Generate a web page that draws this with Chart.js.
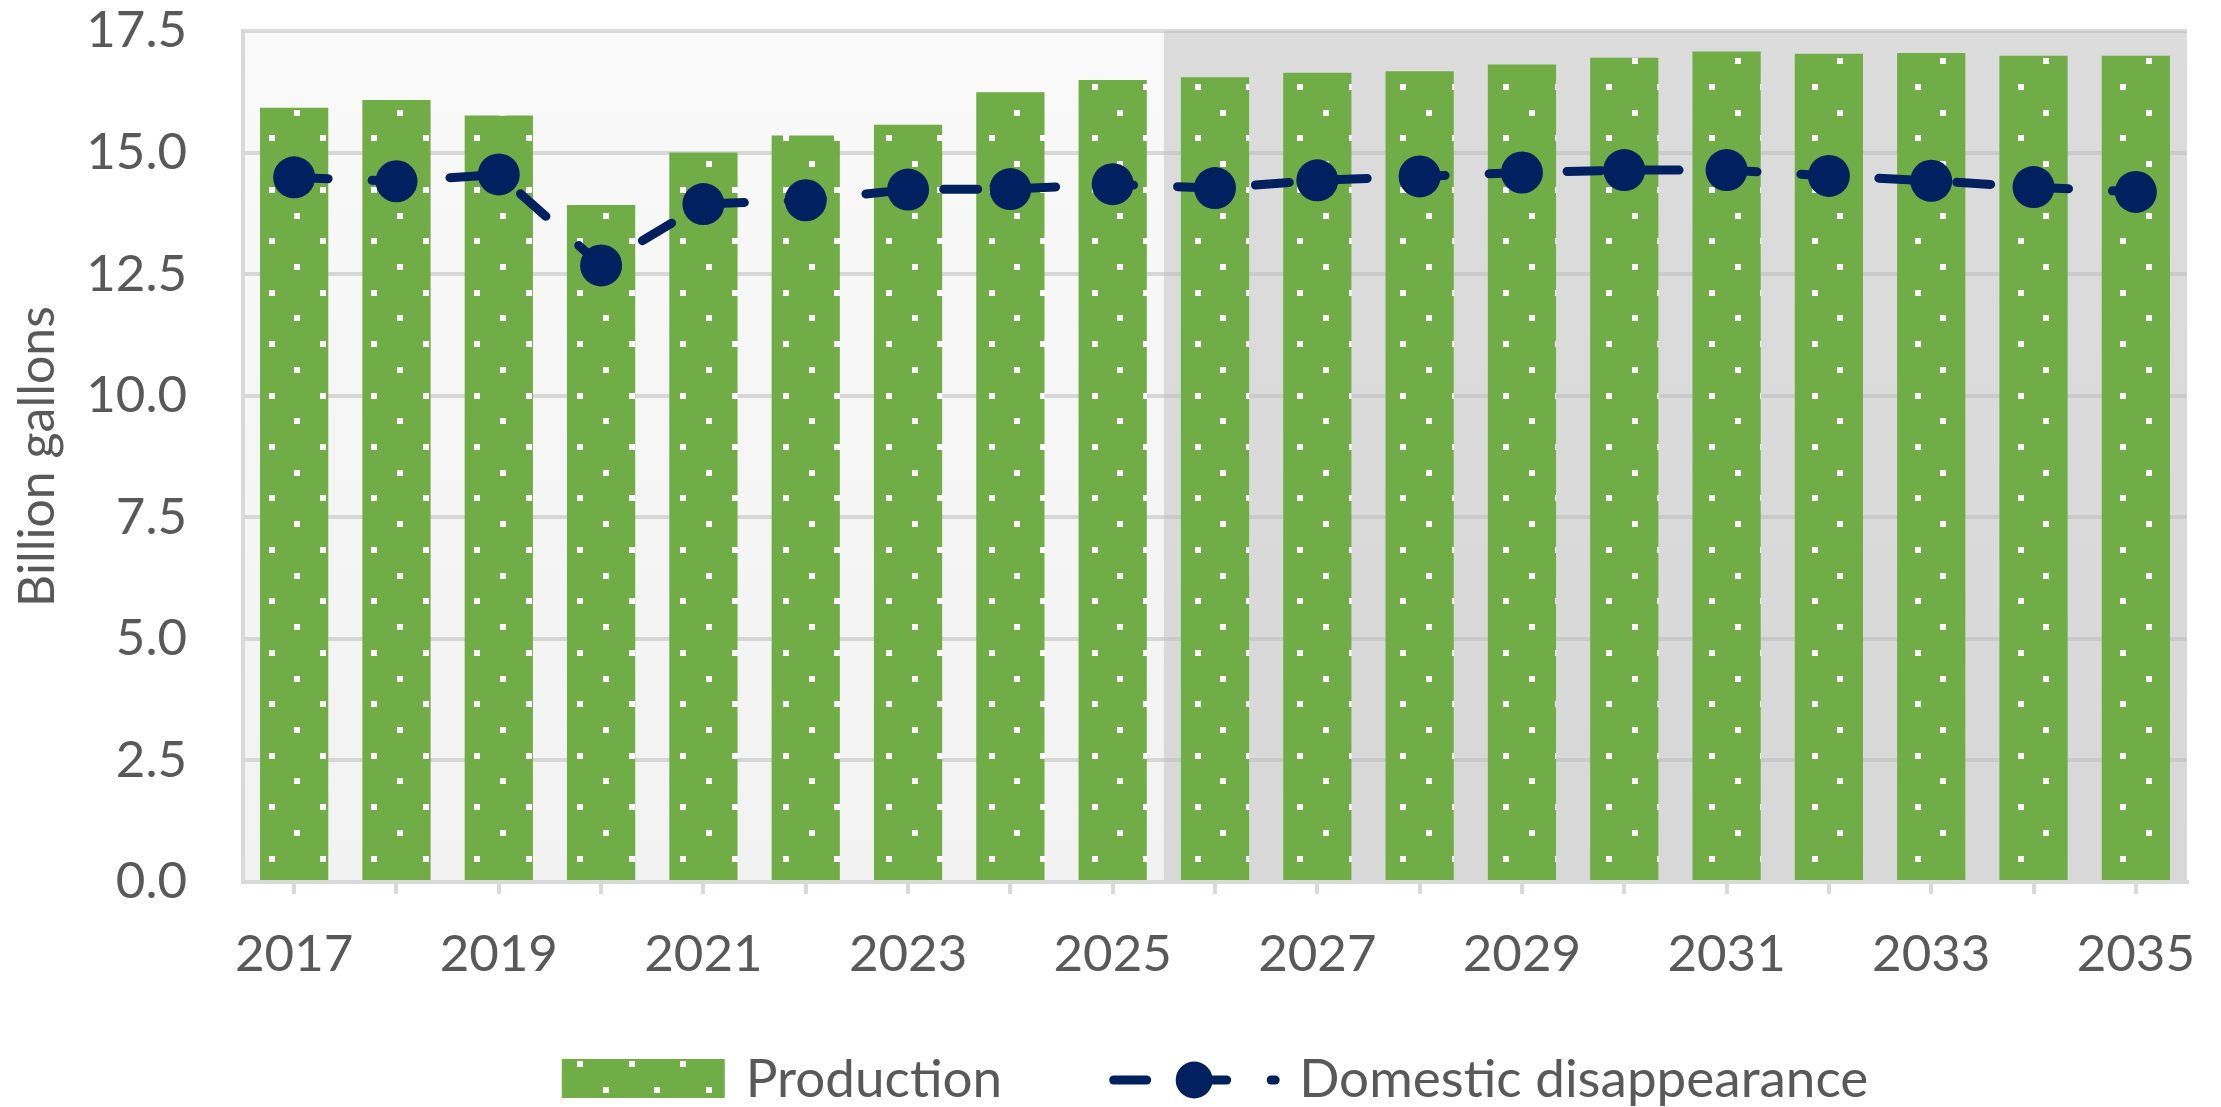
<!DOCTYPE html>
<html>
<head>
<meta charset="utf-8">
<script src="https://cdn.jsdelivr.net/npm/chart.js@4.4.1/dist/chart.umd.min.js"></script>
<style>
    html, body { margin: 0; padding: 0; background: #ffffff; }
    #wrap { width: 2221px; height: 1107px; }
</style>
</head>
<body>
<div id="wrap"><canvas id="chart" width="2221" height="1107"></canvas></div>
<script>
const years = ['2017', '2018', '2019', '2020', '2021', '2022', '2023', '2024', '2025', '2026',
    '2027', '2028', '2029', '2030', '2031', '2032', '2033', '2034', '2035'];
const production = [15.92, 16.08, 15.76, 13.92, 15.00, 15.35, 15.57, 16.24, 16.49, 16.55,
    16.64, 16.67, 16.81, 16.95, 17.08, 17.03, 17.05, 16.99, 16.99];
const domestic = [14.49, 14.41, 14.55, 12.68, 13.94, 14.02, 14.24, 14.25, 14.35, 14.27,
    14.43, 14.51, 14.59, 14.64, 14.64, 14.52, 14.42, 14.29, 14.19];
const yTicks = [0, 2.5, 5, 7.5, 10, 12.5, 15, 17.5];
const lastHistorical = '2025';

const GREEN = '#70AD47';
const NAVY = '#002060';
const TEXT = '#595959';
const FONT = 'Lato, "Open Sans", sans-serif';

// white dotted fill, laid out in canvas coordinates like the original
function dotPattern(w, h) {
    const c = document.createElement('canvas');
    c.width = w;
    c.height = h;
    const g = c.getContext('2d');
    g.fillStyle = GREEN;
    g.fillRect(0, 0, w, h);
    g.fillStyle = '#ffffff';
    const step = 25.72, x0 = 294.3, y0 = 109.7;
    const iMin = Math.floor(-x0 / step) - 1, jMin = Math.floor(-y0 / step) - 1;
    for (let i = iMin; x0 + i * step < w; i++) {
        for (let j = jMin; y0 + j * step < h; j++) {
            if ((i + j) % 2 !== 0) continue;
            g.fillRect(Math.round(x0 + i * step), Math.round(y0 + j * step), 6, 6);
        }
    }
    return g.createPattern(c, 'no-repeat');
}

const canvas = document.getElementById('chart');
const barFill = dotPattern(canvas.width, canvas.height);

const shading = {
    id: 'shading',
    beforeDraw(chart) {
        const {ctx, chartArea: a, scales: {x}} = chart;
        const idx = years.indexOf(lastHistorical);
        const split = (x.getPixelForValue(idx) + x.getPixelForValue(idx + 1)) / 2;
        ctx.save();
        let grad = ctx.createLinearGradient(0, a.top, 0, a.bottom);
        grad.addColorStop(0, '#f9f9f9');
        grad.addColorStop(1, '#f2f2f2');
        ctx.fillStyle = grad;
        ctx.fillRect(a.left, a.top, split - a.left, a.bottom - a.top);
        grad = ctx.createLinearGradient(0, a.top, 0, a.bottom);
        grad.addColorStop(0, '#dcdcdc');
        grad.addColorStop(1, '#d8d8d8');
        ctx.fillStyle = grad;
        ctx.fillRect(split, a.top, a.right - split, a.bottom - a.top);
        ctx.restore();
    }
};

const bottomLegend = {
    id: 'bottomLegend',
    afterDraw(chart) {
        const {ctx, chartArea: a} = chart;
        const bar = chart.data.datasets.find(d => d.type === 'bar');
        const line = chart.data.datasets.find(d => d.type === 'line');
        ctx.save();
        ctx.font = '53px ' + FONT;
        const w1 = ctx.measureText(bar.label).width;
        const w2 = ctx.measureText(line.label).width;
        const boxW = 163, boxH = 39, symW = 172;
        const total = boxW + 21 + w1 + 107 + symW + 18 + w2;
        const cy = chart.height - 27;
        let x = (a.left + a.right) / 2 - total / 2;

        ctx.fillStyle = bar.backgroundColor;
        ctx.fillRect(x, cy - 21, boxW, boxH);
        x += boxW + 21;
        ctx.fillStyle = TEXT;
        ctx.textAlign = 'left';
        ctx.textBaseline = 'middle';
        ctx.fillText(bar.label, x, cy);
        x += w1 + 107;

        ctx.strokeStyle = line.borderColor;
        ctx.lineWidth = 9;
        ctx.lineCap = 'round';
        const seg = (x1, x2) => {
            ctx.beginPath();
            ctx.moveTo(x1, cy);
            ctx.lineTo(x2, cy);
            ctx.stroke();
        };
        seg(x + 4.5, x + 37.5);
        seg(x + 85, x + 117.5);
        seg(x + 162, x + 166);
        ctx.fillStyle = line.pointBackgroundColor;
        ctx.beginPath();
        ctx.arc(x + 85, cy, 18.5, 0, Math.PI * 2);
        ctx.fill();
        x += symW + 18;
        ctx.fillStyle = TEXT;
        ctx.fillText(line.label, x, cy);
        ctx.restore();
    }
};

new Chart(canvas, {
    data: {
        labels: years,
        datasets: [{
            type: 'line',
            label: 'Domestic disappearance',
            data: domestic,
            order: 0,
            borderColor: NAVY,
            borderWidth: 9,
            borderDash: [34, 44],
            borderCapStyle: 'round',
            tension: 0,
            pointRadius: 21,
            pointBorderWidth: 0,
            pointBackgroundColor: NAVY
        }, {
            type: 'bar',
            label: 'Production',
            data: production,
            order: 1,
            backgroundColor: barFill,
            borderWidth: 0,
            categoryPercentage: 1,
            barPercentage: 0.667
        }]
    },
    options: {
        responsive: false,
        animation: false,
        devicePixelRatio: 1,
        layout: {
            padding: {left: 0, right: 34, top: 31, bottom: 91}
        },
        plugins: {
            legend: {display: false},
            tooltip: {enabled: false}
        },
        scales: {
            x: {
                offset: true,
                grid: {
                    offset: false,
                    drawOnChartArea: false,
                    drawTicks: true,
                    tickLength: 12,
                    color: '#d9d9d9',
                    lineWidth: 4
                },
                border: {display: true, color: '#d9d9d9', width: 4},
                ticks: {
                    autoSkip: false,
                    maxRotation: 0,
                    padding: 0,
                    color: TEXT,
                    font: {family: FONT, size: 51, lineHeight: 2.39},
                    callback: function (value, index) {
                        return index % 2 === 0 ? years[index] : '';
                    }
                },
                afterFit: function (scale) {
                    scale.height = 134;
                }
            },
            y: {
                min: yTicks[0],
                max: yTicks[yTicks.length - 1],
                afterBuildTicks: function (scale) {
                    scale.ticks = yTicks.map(v => ({value: v}));
                },
                afterFit: function (scale) {
                    scale.width = 243;
                },
                grid: {
                    drawTicks: true,
                    tickLength: 56,
                    tickColor: 'rgba(0,0,0,0)',
                    color: 'rgba(190,190,190,0.55)',
                    lineWidth: 4
                },
                border: {display: true, color: '#d9d9d9', width: 4},
                ticks: {
                    padding: 0,
                    color: TEXT,
                    font: {family: FONT, size: 51},
                    callback: function (value) {
                        return value.toFixed(1);
                    }
                },
                title: {
                    display: true,
                    text: 'Billion gallons',
                    color: TEXT,
                    font: {family: FONT, size: 50},
                    padding: {top: 8, bottom: 25}
                }
            }
        }
    },
    plugins: [shading, bottomLegend]
});
</script>
</body>
</html>
